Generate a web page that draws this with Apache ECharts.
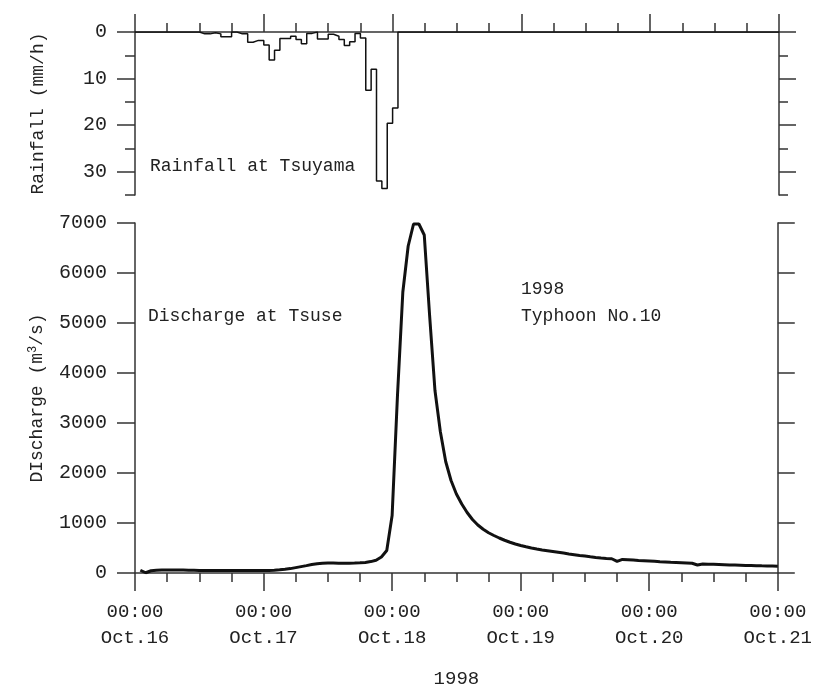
<!DOCTYPE html>
<html>
<head>
<meta charset="utf-8">
<script src="https://cdn.jsdelivr.net/npm/echarts@6/dist/echarts.min.js"></script>
<style>
  html, body { margin: 0; padding: 0; background: #fff; }
  #chart { width: 815px; height: 693px; }
</style>
</head>
<body>
<div id="chart"></div>
<script>
// hourly rainfall at Tsuyama (mm/h), hour 0 = Oct.16 00:00
const rainfall = [
  0, 0, 0, 0, 0, 0, 0, 0, 0, 0, 0, 0,
  0.4, 0.4, 0.15, 0.4, 1.0, 1.0, 0, 0.4, 0.4, 2.2, 1.8, 1.8,
  2.8, 6.0, 3.9, 1.4, 1.4, 0.9, 1.6, 2.5, 0.3, 0, 1.5, 1.5,
  0.5, 0.9, 1.6, 2.9, 2.1, 0.3, 1.3, 12.5, 8.0, 32.0, 33.6, 19.6,
  16.3, 0
]
// hourly discharge at Tsuse (m3/s), first value at hour 1
const dischargeStart = 1
const discharge = [
  55, 5, 45, 55, 60, 62, 62, 60, 58, 56, 54, 52,
  50, 50, 50, 50, 50, 50, 50, 50, 50, 50, 50, 50,
  52, 56, 64, 75, 88, 108, 128, 148, 170, 186, 195, 198,
  198, 197, 196, 196, 198, 203, 212, 228, 255, 320, 450, 1150,
  3550, 5620, 6540, 6980, 6980, 6760, 5150, 3650, 2830, 2230, 1850, 1580,
  1380, 1210, 1070, 960, 875, 805, 750, 700, 655, 615, 580, 550,
  524, 500, 480, 462, 446, 430, 414, 398, 382, 367, 352, 338,
  324, 311, 300, 292, 285, 232, 272, 265, 258, 251, 245, 239,
  233, 227, 222, 216, 211, 206, 200, 194, 160, 180, 177, 173,
  169, 165, 161, 158, 155, 152, 149, 146, 143, 141, 139, 136
]
const dayLabels = ['Oct.16', 'Oct.17', 'Oct.18', 'Oct.19', 'Oct.20', 'Oct.21']
const rainTicks = [0, 10, 20, 30]
const rainMinorTicks = [5, 15, 25, 35]

const rainData = rainfall.map((v, i) => [i, v])
rainData.push([120, 0])
const flowData = discharge.map((v, i) => [i + dischargeStart, v])

const FONT = '"Liberation Mono", "DejaVu Sans Mono", monospace'
const INK = '#222'
const lineStyle = { color: '#333', width: 1.5 }

const chart = echarts.init(document.getElementById('chart'))

function xAxisBase(grid, pos) {
  return {
    type: 'value',
    gridIndex: grid,
    position: pos,
    min: 0,
    max: 120,
    interval: 24,
    axisLine: { show: true, onZero: false, lineStyle: lineStyle },
    axisTick: { show: true, length: 18, lineStyle: lineStyle },
    minorTick: { show: true, splitNumber: 4, length: 9, lineStyle: lineStyle },
    splitLine: { show: false },
    axisLabel: { show: false }
  }
}

function yAxisTicks(grid, pos, opts) {
  return Object.assign({
    type: 'value',
    gridIndex: grid,
    position: pos,
    splitLine: { show: false },
    axisLabel: { show: false },
    axisLine: { show: true, onZero: false, lineStyle: lineStyle }
  }, opts)
}

const bottomX = xAxisBase(1, 'bottom')
bottomX.axisLabel = {
  show: true,
  margin: 26,
  lineHeight: 26,
  fontFamily: FONT,
  fontSize: 19,
  color: INK,
  formatter: v => '00:00\n' + dayLabels[v / 24]
}
bottomX.name = '1998'
bottomX.nameLocation = 'middle'
bottomX.nameGap = 96
bottomX.nameTextStyle = { fontFamily: FONT, fontSize: 19, color: INK }

chart.setOption({
  animation: false,
  grid: [
    { left: 135, right: 36, top: 32, height: 163 },
    { left: 135, right: 36, top: 223, height: 354 }
  ],
  xAxis: [xAxisBase(0, 'top'), bottomX],
  yAxis: [
    yAxisTicks(0, 'left', {
      inverse: true, min: 0, max: 35, interval: 5,
      axisTick: { length: 18, customValues: rainTicks, lineStyle: lineStyle },
      axisLabel: {
        show: true, customValues: rainTicks, margin: 28,
        fontFamily: FONT, fontSize: 20, color: INK,
        formatter: v => String(v)
      },
      name: 'Rainfall (mm/h)',
      nameLocation: 'middle',
      nameGap: 88,
      nameTextStyle: { fontFamily: FONT, fontSize: 18, color: INK }
    }),
    yAxisTicks(0, 'left', {
      inverse: true, min: 0, max: 35, interval: 5,
      axisLine: { show: false },
      axisTick: { length: 10, customValues: rainMinorTicks, lineStyle: lineStyle }
    }),
    yAxisTicks(0, 'right', {
      inverse: true, min: 0, max: 35, interval: 5,
      axisTick: { length: 17, customValues: rainTicks, lineStyle: lineStyle }
    }),
    yAxisTicks(0, 'right', {
      inverse: true, min: 0, max: 35, interval: 5,
      axisLine: { show: false },
      axisTick: { length: 9, customValues: rainMinorTicks, lineStyle: lineStyle }
    }),
    yAxisTicks(1, 'left', {
      min: 0, max: 7000, interval: 1000,
      axisTick: { length: 18, lineStyle: lineStyle },
      axisLabel: {
        show: true, margin: 28,
        fontFamily: FONT, fontSize: 20, color: INK,
        formatter: v => String(v)
      },
      name: 'DIscharge (m{sup|3}/s)',
      nameLocation: 'middle',
      nameGap: 88,
      nameTextStyle: {
        fontFamily: FONT, fontSize: 18, color: INK,
        rich: { sup: { fontFamily: FONT, fontSize: 12, color: INK, verticalAlign: 'top', padding: [0, 0, 8, 0] } }
      }
    }),
    yAxisTicks(1, 'right', {
      min: 0, max: 7000, interval: 1000,
      axisTick: { length: 17, lineStyle: lineStyle }
    })
  ],
  series: [
    {
      name: 'Rainfall',
      type: 'line',
      xAxisIndex: 0,
      yAxisIndex: 0,
      step: 'end',
      symbol: 'none',
      lineStyle: { color: '#111', width: 1.5 },
      data: rainData
    },
    {
      name: 'Discharge',
      type: 'line',
      xAxisIndex: 1,
      yAxisIndex: 4,
      symbol: 'none',
      lineStyle: { color: '#111', width: 3 },
      data: flowData
    }
  ],
  graphic: [
    { type: 'text', x: 150, y: 166, style: { text: 'Rainfall at Tsuyama', font: '18px ' + FONT, fill: INK, verticalAlign: 'middle' } },
    { type: 'text', x: 148, y: 316, style: { text: 'Discharge at Tsuse', font: '18px ' + FONT, fill: INK, verticalAlign: 'middle' } },
    { type: 'text', x: 521, y: 289, style: { text: '1998', font: '18px ' + FONT, fill: INK, verticalAlign: 'middle' } },
    { type: 'text', x: 521, y: 316, style: { text: 'Typhoon No.10', font: '18px ' + FONT, fill: INK, verticalAlign: 'middle' } }
  ]
})
</script>
</body>
</html>
